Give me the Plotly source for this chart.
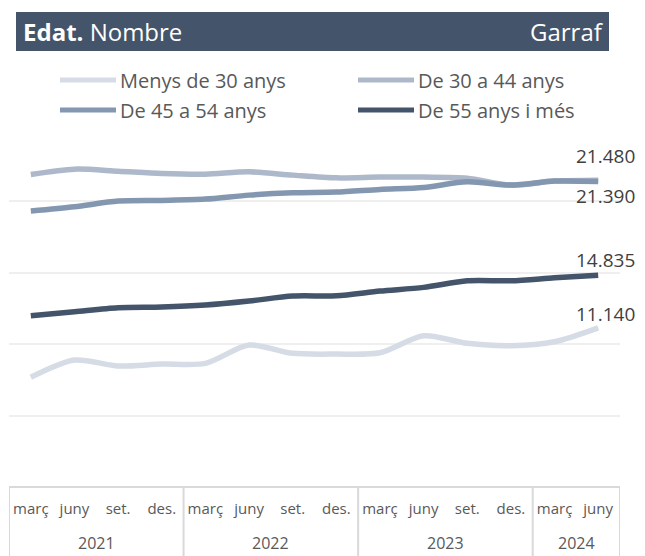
import plotly.graph_objects as go

# ---- data ----
months = ["març", "juny", "set.", "des.", "març", "juny", "set.", "des.",
          "març", "juny", "set.", "des.", "març", "juny"]
years = ["2021", "2022", "2023", "2024"]
year_counts = [4, 4, 4, 2]

menys_30 = [7680, 8890, 8470, 8610, 8660, 9940, 9360, 9310, 9400, 10590, 10060, 9890, 10170, 11140]
de_30_44 = [21890, 22260, 22120, 21960, 21910, 22070, 21840, 21650, 21700, 21700, 21630, 21140, 21420, 21480]
de_45_54 = [19320, 19620, 20020, 20070, 20160, 20440, 20600, 20650, 20840, 20980, 21370, 21140, 21420, 21390]
de_55_mes = [11990, 12270, 12550, 12600, 12740, 13020, 13370, 13390, 13720, 13980, 14440, 14440, 14650, 14835]

series_names = ["Menys de 30 anys", "De 30 a 44 anys", "De 45 a 54 anys", "De 55 anys i més"]
series_vals = [menys_30, de_30_44, de_45_54, de_55_mes]
colors = ["#D6DCE5", "#ADB9CA", "#8497B0", "#44546A"]
end_shift = [14, 24, -14, 15]

# ---- layout geometry ----
OFF = 8                      # page body margin of the browser
W, H = 645 - OFF, 556 - OFF
L, R, T, B = 1, 25, 122, 69
PW, PH = W - L - R, H - T - B
FONT = "'Open Sans', Lato, sans-serif"

def px(p):  # page pixel -> paper x
    return (p - OFF - L) / PW

def py(p):  # page pixel -> paper y
    return (H - B - (p - OFF)) / PH

x = list(range(len(months)))
fig = go.Figure()
for name, vals, col in zip(series_names, series_vals, colors):
    fig.add_trace(go.Scatter(x=x, y=vals, mode="lines", name=name,
                             line=dict(color=col, width=5.5, shape="spline", smoothing=0.8),
                             showlegend=False, hoverinfo="skip"))

annotations = []
shapes = []

# end labels
for vals, s in zip(series_vals, end_shift):
    annotations.append(dict(x=x[-1], y=vals[-1], xref="x", yref="y",
                            text=f"{vals[-1]:,}".replace(",", "."), showarrow=False,
                            xanchor="center", yanchor="middle", xshift=7, yshift=s,
                            font=dict(family=FONT, size=19, color="#404040")))

# title bar
shapes.append(dict(type="rect", xref="paper", yref="paper", x0=px(16), x1=px(609),
                   y0=py(51), y1=py(12), fillcolor="#44546A", line=dict(width=0), layer="below"))
annotations.append(dict(xref="paper", yref="paper", x=px(21), y=py(31.5), xanchor="left",
                        yanchor="middle", showarrow=False, text="<b>Edat.</b> Nombre",
                        font=dict(family=FONT, size=24, color="white")))
annotations.append(dict(xref="paper", yref="paper", x=px(606), y=py(31.5), xanchor="right",
                        yanchor="middle", showarrow=False, text="Garraf",
                        font=dict(family=FONT, size=24, color="white")))

# legend (2x2)
leg_pos = [(60, 80), (358, 80), (60, 110), (358, 110)]
for (lx, ly), name, col in zip(leg_pos, series_names, colors):
    shapes.append(dict(type="line", xref="paper", yref="paper", x0=px(lx), x1=px(lx + 56),
                       y0=py(ly), y1=py(ly), line=dict(color=col, width=5)))
    annotations.append(dict(xref="paper", yref="paper", x=px(lx + 58), y=py(ly), xanchor="left",
                            yanchor="middle", showarrow=False, text=name,
                            font=dict(family=FONT, size=20, color="#595959")))

# x-axis table
grid_col = "#D9D9D9"
shapes.append(dict(type="line", xref="paper", yref="paper", x0=0, x1=1, y0=0, y1=0,
                   line=dict(color=grid_col, width=2)))
start = 0
bounds = [-0.5]
for c in year_counts:
    start += c
    bounds.append(start - 0.5)
for b in bounds:
    shapes.append(dict(type="line", xref="x", yref="paper", x0=b, x1=b, y0=0, y1=py(570),
                       line=dict(color=grid_col, width=2)))
for i, yr in enumerate(years):
    cx = (bounds[i] + bounds[i + 1]) / 2
    annotations.append(dict(xref="x", yref="paper", x=cx, y=py(543), xanchor="center",
                            yanchor="middle", showarrow=False, text=yr,
                            font=dict(family=FONT, size=16, color="#595959")))

fig.update_layout(
    width=W, height=H, margin=dict(l=L, r=R, t=T, b=B, autoexpand=False),
    paper_bgcolor="white", plot_bgcolor="white",
    showlegend=False, shapes=shapes, annotations=annotations,
    xaxis=dict(range=[-0.5, 13.5], tickmode="array", tickvals=x, ticktext=months,
               showgrid=False, zeroline=False, showline=False, ticks="",
               tickfont=dict(family=FONT, size=15, color="#595959"), ticklabelstandoff=11,
               fixedrange=True),
    yaxis=dict(range=[0, 25000], dtick=5000, showgrid=True, gridcolor="#EFEFEF", gridwidth=1.5,
               zeroline=False, showticklabels=False, showline=False, fixedrange=True),
)

fig.write_html("out.html")
